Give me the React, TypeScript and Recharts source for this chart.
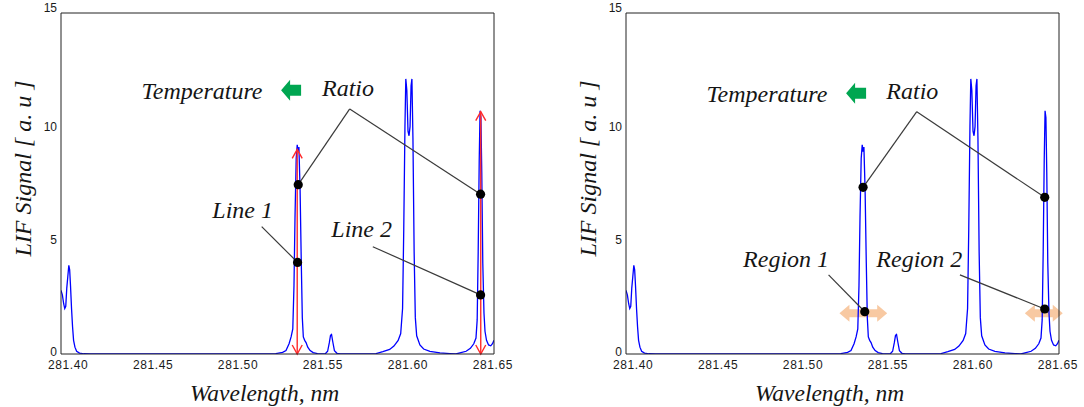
import React from 'react'
import { LineChart, Line, XAxis, YAxis, ReferenceLine, ReferenceDot, Label } from 'recharts'

/* LIF spectrum, two panels: line pair (left) and integration regions (right) */

const WAVELENGTH = [
  281.3976, 281.3984, 281.3992, 281.3998, 281.4004, 281.401, 281.4016, 281.4022, 281.4027, 281.4032,
  281.4038, 281.4044, 281.405, 281.4058, 281.4068, 281.4085, 281.411, 281.415, 281.46, 281.5,
  281.52, 281.524, 281.528, 281.53, 281.5318, 281.533, 281.534, 281.5347, 281.5353, 281.536,
  281.5366, 281.5371, 281.5376, 281.5383, 281.539, 281.5396, 281.5402, 281.541, 281.5418, 281.5428,
  281.5442, 281.546, 281.5485, 281.551, 281.553, 281.5545, 281.5555, 281.5562, 281.5568, 281.5575,
  281.5585, 281.56, 281.562, 281.579, 281.583, 281.587, 281.591, 281.5935, 281.596, 281.5975,
  281.5986, 281.5993, 281.6, 281.6005, 281.6011, 281.6018, 281.6024, 281.603, 281.6036, 281.6041,
  281.6047, 281.6054, 281.6061, 281.6069, 281.6088, 281.611, 281.6147, 281.6206, 281.6265, 281.63,
  281.6324, 281.636, 281.6385, 281.6405, 281.6418, 281.6425, 281.6431, 281.6437, 281.6442, 281.6447,
  281.6452, 281.6458, 281.6465, 281.6471, 281.648, 281.6492, 281.6505, 281.6515, 281.6524,
]

const SIGNAL = [
  2.8, 2.6, 2.2, 2.0, 2.1, 2.9, 3.4, 3.9, 3.7, 3.0,
  2.0, 1.2, 0.6, 0.3, 0.12, 0.04, 0.01, 0, 0, 0,
  0, 0.02, 0.07, 0.15, 0.45, 0.75, 1.1, 3.0, 6.0, 8.6,
  9.2, 8.9, 9.1, 7.2, 4.0, 1.6, 0.75, 0.6, 0.5, 0.3,
  0.15, 0.06, 0.02, 0, 0, 0.12, 0.5, 0.82, 0.86, 0.55,
  0.15, 0.03, 0, 0, 0.02, 0.1, 0.2, 0.35, 0.6, 0.9,
  2.0, 5.5, 10.0, 12.1, 11.6, 9.8, 9.6, 10.0, 11.8, 12.1,
  9.5, 4.5, 1.6, 0.8, 0.4, 0.22, 0.12, 0.05, 0.02, 0,
  0.05, 0.12, 0.25, 0.45, 0.7, 1.5, 4.5, 8.5, 10.7, 10.4,
  8.0, 4.0, 1.8, 1.0, 0.6, 0.4, 0.36, 0.45, 0.6,
]

const X_TICKS = [281.4, 281.45, 281.5, 281.55, 281.6, 281.65]
const Y_TICKS = [0, 5, 10, 15]
const X_DOMAIN: [number, number] = [281.3976, 281.6524]
const Y_DOMAIN: [number, number] = [0, 15]

// annotation anchors, in data units
const LEFT_TEXTS = [
  { label: 'Temperature', x: 281.4806, y: 11.6 },
  { label: 'Ratio', x: 281.5665, y: 11.7 },
  { label: 'Line 1', x: 281.5045, y: 6.37 },
  { label: 'Line 2', x: 281.5745, y: 5.53 },
]
const LEFT_POINTERS = [
  { from: { x: 281.5675, y: 10.78 }, to: { x: 281.5372, y: 7.45 } },
  { from: { x: 281.5675, y: 10.78 }, to: { x: 281.6445, y: 7.03 } },
  { from: { x: 281.5157, y: 5.6 }, to: { x: 281.5368, y: 4.03 } },
  { from: { x: 281.5811, y: 4.72 }, to: { x: 281.6445, y: 2.6 } },
]
const LEFT_LINE_ARROWS = [
  { x: 281.5366, top: 9.0 },
  { x: 281.6446, top: 10.66 },
]

const RIGHT_TEXTS = [
  { label: 'Temperature', x: 281.4805, y: 11.47 },
  { label: 'Ratio', x: 281.5661, y: 11.58 },
  { label: 'Region 1', x: 281.4918, y: 4.21 },
  { label: 'Region 2', x: 281.5702, y: 4.21 },
]
const RIGHT_POINTERS = [
  { from: { x: 281.5687, y: 10.66 }, to: { x: 281.5371, y: 7.33 } },
  { from: { x: 281.5687, y: 10.66 }, to: { x: 281.644, y: 6.89 } },
  { from: { x: 281.5168, y: 3.48 }, to: { x: 281.5381, y: 1.86 } },
  { from: { x: 281.5941, y: 3.48 }, to: { x: 281.644, y: 1.98 } },
]
const RIGHT_REGIONS = [
  { x1: 281.5232, x2: 281.5513, y: 1.79 },
  { x1: 281.6323, x2: 281.6546, y: 1.79 },
]

const ROWS = WAVELENGTH.map((x, i) => ({ x, y: SIGNAL[i] }))

const FRAME = '#222'
const SERIF = "'Times New Roman', 'Liberation Serif', serif"
const SANS = "Arial, 'Liberation Sans', sans-serif"

function XTick(props: any) {
  const { x, y, payload } = props
  return (
    <text x={x + 3} y={y} dy={15} textAnchor="middle" fontFamily={SANS} fontSize={12} letterSpacing={0.6} fill="#1a1a1a">
      {Number(payload.value).toFixed(2)}
    </text>
  )
}

function YTick(props: any) {
  const { x, y, payload } = props
  // the top label sits a little higher than its tick, as in the source figure
  const dy = payload.value === 15 ? -1 : payload.value === 0 ? 1.5 : 4
  return (
    <text x={x - 4} y={y} dy={dy} textAnchor="end" fontFamily={SANS} fontSize={12} fill="#1a1a1a">
      {payload.value}
    </text>
  )
}

function LineArrow(props: any) {
  const { x1, y1, y2 } = props
  const top = Math.min(y1, y2)
  const bottom = Math.max(y1, y2)
  return (
    <g stroke="#ff2a2a" strokeWidth={1.4} fill="none">
      <line x1={x1} y1={top} x2={x1} y2={bottom} />
      <polyline points={`${x1 - 5},${top + 9} ${x1},${top} ${x1 + 5},${top + 9}`} />
      <polyline points={`${x1 - 5},${bottom - 9} ${x1},${bottom} ${x1 + 5},${bottom - 9}`} />
    </g>
  )
}

function RegionArrow(props: any) {
  const { x1, x2, y1 } = props
  const l = Math.min(x1, x2)
  const r = Math.max(x1, x2)
  const head = 10
  const hh = 8.5
  const sh = 4
  const pts = [
    [l, y1], [l + head, y1 - hh], [l + head, y1 - sh], [r - head, y1 - sh], [r - head, y1 - hh],
    [r, y1], [r - head, y1 + hh], [r - head, y1 + sh], [l + head, y1 + sh], [l + head, y1 + hh],
  ]
  return <polygon points={pts.map((p) => p.join(',')).join(' ')} fill="#f8c9a2" stroke="none" />
}

function GreenArrow(props: any) {
  const { cx, cy } = props
  const pts = [
    [cx - 10, cy], [cx - 1, cy - 10.5], [cx - 1, cy - 5.5], [cx + 10, cy - 5.5],
    [cx + 10, cy + 5.5], [cx - 1, cy + 5.5], [cx - 1, cy + 10.5],
  ]
  return <polygon points={pts.map((p) => p.join(',')).join(' ')} fill="#00a651" stroke="none" />
}

const noteShape = (label: string) => (p: any) => (
  <text x={p.cx} y={p.cy} dy="0.35em" textAnchor="middle" fontFamily={SERIF} fontStyle="italic" fontSize={24} fill="#151515">
    {label}
  </text>
)

interface PanelProps {
  width: number
  marginRight: number
  texts: { label: string; x: number; y: number }[]
  pointers: { from: { x: number; y: number }; to: { x: number; y: number } }[]
  lineArrows?: { x: number; top: number }[]
  regions?: { x1: number; x2: number; y: number }[]
}

function Panel({ width, marginRight, texts, pointers, lineArrows = [], regions = [] }: PanelProps) {
  const greenY = texts[0].y
  return (
    <LineChart width={width} height={407} data={ROWS} margin={{ top: 13, right: marginRight, bottom: 23, left: 16 }}>
      <XAxis
        dataKey="x"
        type="number"
        domain={X_DOMAIN}
        ticks={X_TICKS}
        interval={0}
        allowDataOverflow
        height={30}
        axisLine={{ stroke: FRAME, strokeWidth: 1 }}
        tickLine={false}
        tickSize={0}
        tickMargin={0}
        tick={<XTick />}
      >
        <Label
          content={({ viewBox }: any) => (
            <text x={viewBox.x + viewBox.width / 2 - 13} y={viewBox.y + 39} dy="0.35em" textAnchor="middle" fontFamily={SERIF} fontStyle="italic" fontSize={23.5} fill="#151515">
              Wavelength, nm
            </text>
          )}
        />
      </XAxis>
      <XAxis xAxisId="bt" orientation="bottom" mirror type="number" domain={X_DOMAIN} ticks={X_TICKS} interval={0} allowDataOverflow height={10} axisLine={false} tick={false} tickLine={{ stroke: FRAME }} tickSize={4} />
      <XAxis xAxisId="top" orientation="top" mirror type="number" domain={X_DOMAIN} ticks={X_TICKS} interval={0} allowDataOverflow height={10} axisLine={{ stroke: FRAME, strokeWidth: 1 }} tick={false} tickLine={{ stroke: FRAME }} tickSize={4} />
      <YAxis
        type="number"
        domain={Y_DOMAIN}
        ticks={Y_TICKS}
        interval={0}
        allowDataOverflow
        width={45}
        axisLine={{ stroke: FRAME, strokeWidth: 1 }}
        tickLine={false}
        tickSize={0}
        tickMargin={0}
        tick={<YTick />}
      >
        <Label
          content={({ viewBox }: any) => {
            const cx = viewBox.x + viewBox.width - 38
            const cy = viewBox.y + viewBox.height / 2 - 15
            return (
              <text x={cx} y={cy} dy="0.35em" transform={`rotate(-90 ${cx} ${cy})`} textAnchor="middle" fontFamily={SERIF} fontStyle="italic" fontSize={24} fill="#151515">
                LIF Signal [ a. u ]
              </text>
            )
          }}
        />
      </YAxis>
      <YAxis yAxisId="lt" orientation="left" mirror type="number" domain={Y_DOMAIN} ticks={Y_TICKS} interval={0} allowDataOverflow width={10} axisLine={false} tick={false} tickLine={{ stroke: FRAME }} tickSize={4} />
      <YAxis yAxisId="right" orientation="right" mirror type="number" domain={Y_DOMAIN} ticks={Y_TICKS} interval={0} allowDataOverflow width={10} axisLine={{ stroke: FRAME, strokeWidth: 1 }} tick={false} tickLine={{ stroke: FRAME }} tickSize={4} />

      {regions.map((r, i) => (
        <ReferenceLine key={`rg${i}`} segment={[{ x: r.x1, y: r.y }, { x: r.x2, y: r.y }]} ifOverflow="visible" shape={<RegionArrow />} />
      ))}

      <Line type="linear" dataKey="y" stroke="#0000ff" strokeWidth={1.3} dot={false} activeDot={false} isAnimationActive={false} />

      {lineArrows.map((a, i) => (
        <ReferenceLine key={`la${i}`} segment={[{ x: a.x, y: 0 }, { x: a.x, y: a.top }]} ifOverflow="visible" shape={<LineArrow />} />
      ))}
      {pointers.map((p, i) => (
        <ReferenceLine key={`pt${i}`} segment={[p.from, p.to]} stroke="#3a3a3a" strokeWidth={1.2} ifOverflow="visible" />
      ))}
      {pointers.map((p, i) => (
        <ReferenceDot key={`dt${i}`} x={p.to.x} y={p.to.y} r={4.6} fill="#000" stroke="none" ifOverflow="visible" />
      ))}
      <ReferenceDot x={281.533} y={greenY} ifOverflow="visible" shape={<GreenArrow />} />
      {texts.map((t, i) => (
        <ReferenceDot key={`tx${i}`} x={t.x} y={t.y} ifOverflow="visible" shape={noteShape(t.label)} />
      ))}
    </LineChart>
  )
}

export default function App() {
  return (
    <div style={{ position: 'absolute', left: 0, top: 0, width: 1084, height: 407, background: '#fff', overflow: 'hidden' }}>
      <div style={{ position: 'absolute', left: 0, top: 0 }}>
        <Panel width={542} marginRight={48} texts={LEFT_TEXTS} pointers={LEFT_POINTERS} lineArrows={LEFT_LINE_ARROWS} />
      </div>
      <div style={{ position: 'absolute', left: 565, top: 0 }}>
        <Panel width={519} marginRight={25} texts={RIGHT_TEXTS} pointers={RIGHT_POINTERS} regions={RIGHT_REGIONS} />
      </div>
    </div>
  )
}
